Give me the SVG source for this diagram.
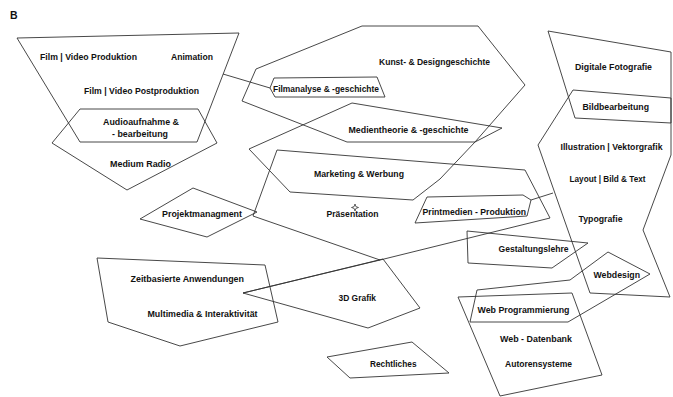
<svg xmlns="http://www.w3.org/2000/svg" width="673" height="397" viewBox="0 0 673 397">
<style>
.s{fill:none;stroke:#333;stroke-width:0.9;stroke-linejoin:miter}
text{font-family:"Liberation Sans",Arial,sans-serif;font-weight:bold;font-size:9.5px;fill:#111}
</style>
<rect width="673" height="397" fill="#fff"/>
<text x="10" y="18.5" style="font-size:10.5px">B</text>
<g id="film"><polygon class="s" points="17,38 239,33 197,142 80,142"/>
<text x="40" y="59.5" textLength="97" lengthAdjust="spacingAndGlyphs">Film | Video Produktion</text>
<text x="171" y="59.5" textLength="42" lengthAdjust="spacingAndGlyphs">Animation</text>
<text x="84" y="94" textLength="115" lengthAdjust="spacingAndGlyphs">Film | Video Postproduktion</text></g>
<g id="radio"><polygon class="s" points="52,143 80,109 198,109 217,143 127,190"/>
<text x="103" y="125" textLength="76" lengthAdjust="spacingAndGlyphs">Audioaufnahme &amp;</text>
<text x="112" y="136.5" textLength="56" lengthAdjust="spacingAndGlyphs">- bearbeitung</text>
<text x="110" y="166.5" textLength="61" lengthAdjust="spacingAndGlyphs">Medium Radio</text></g>
<g id="filmanalyse"><polyline class="s" points="223,74 270,88 274,78 377,77 385,97 275,97 270,88"/>
<text x="273" y="91.5" textLength="106" lengthAdjust="spacingAndGlyphs">Filmanalyse &amp; -geschichte</text></g>
<g id="kunst"><polygon class="s" points="256,69 362,26 478,26 525,85 475,142 347,142 242,101"/>
<text x="379" y="65" textLength="111" lengthAdjust="spacingAndGlyphs">Kunst- &amp; Designgeschichte</text></g>
<g id="medien"><polygon class="s" points="352,103 502,128 475,142 440,179 413,200 290,192 249,149"/>
<text x="348.5" y="132.5" textLength="120" lengthAdjust="spacingAndGlyphs">Medientheorie &amp; -geschichte</text>
<text x="314" y="176.5" textLength="90" lengthAdjust="spacingAndGlyphs">Marketing &amp; Werbung</text></g>
<g id="praesentation"><polygon class="s" points="277,150 525,170 550,218 380,260 253,216"/>
<text x="326.5" y="217" textLength="52" lengthAdjust="spacingAndGlyphs">Präsentation</text>
<path d="M355,204 L355.9,206.6 L358.5,207.5 L355.9,208.4 L355,211 L354.1,208.4 L351.5,207.5 L354.1,206.6 Z" fill="#fff" stroke="#222" stroke-width="0.7"/></g>
<g id="projekt"><polygon class="s" points="140,219 193,188 257,212 207,237"/>
<text x="162" y="216.5" textLength="80" lengthAdjust="spacingAndGlyphs">Projektmanagment</text></g>
<g id="grafik3d"><polygon class="s" points="243,293 383,259 420,308 368,328"/>
<text x="338.5" y="301" textLength="37.5" lengthAdjust="spacingAndGlyphs">3D Grafik</text></g>
<g id="zeit"><polygon class="s" points="97,258 265,265 278,322 180,346 108,322"/>
<text x="130.5" y="282" textLength="113.5" lengthAdjust="spacingAndGlyphs">Zeitbasierte Anwendungen</text>
<text x="147.5" y="316.5" textLength="110" lengthAdjust="spacingAndGlyphs">Multimedia &amp; Interaktivität</text></g>
<g id="recht"><polygon class="s" points="327,357 412,342 449,373 350,378"/>
<text x="370" y="366.5" textLength="46.5" lengthAdjust="spacingAndGlyphs">Rechtliches</text></g>
<g id="print"><polygon class="s" points="415,223 427,197 523,195 531,200 527,216"/>
<text x="422.5" y="215" textLength="103.5" lengthAdjust="spacingAndGlyphs">Printmedien - Produktion</text></g>
<g id="foto"><polygon class="s" points="548,31 671,52 671,123 575,118"/>
<text x="575" y="70" textLength="77" lengthAdjust="spacingAndGlyphs">Digitale Fotografie</text>
<text x="582.5" y="110" textLength="66.5" lengthAdjust="spacingAndGlyphs">Bildbearbeitung</text></g>
<g id="illustration"><polygon class="s" points="573,90 671,98 671,155 643,230 670,297 590,293 538,145"/>
<text x="560.5" y="150" textLength="102" lengthAdjust="spacingAndGlyphs">Illustration | Vektorgrafik</text>
<text x="569.5" y="181.5" textLength="76" lengthAdjust="spacingAndGlyphs">Layout | Bild &amp; Text</text>
<text x="578.5" y="222" textLength="44" lengthAdjust="spacingAndGlyphs">Typografie</text></g>
<g id="gestaltung"><polygon class="s" points="467,231 588,243 552,268 468,263"/>
<text x="498.5" y="251.5" textLength="70" lengthAdjust="spacingAndGlyphs">Gestaltungslehre</text></g>
<g id="webdesign"><polygon class="s" points="608,252 650,274 568,322 470,322 477,290 570,280"/>
<text x="593.5" y="277.5" textLength="46.5" lengthAdjust="spacingAndGlyphs">Webdesign</text>
<text x="477.5" y="313" textLength="92" lengthAdjust="spacingAndGlyphs">Web Programmierung</text></g>
<g id="webdb"><polygon class="s" points="458,297 572,293 602,375 500,396"/>
<text x="500" y="342" textLength="72" lengthAdjust="spacingAndGlyphs">Web - Datenbank</text>
<text x="505" y="366.5" textLength="67" lengthAdjust="spacingAndGlyphs">Autorensysteme</text></g>
<g id="connectors">
<line class="s" x1="531" y1="200" x2="553" y2="193"/>
<line class="s" x1="380" y1="260" x2="243" y2="293"/>
</g>
</svg>
